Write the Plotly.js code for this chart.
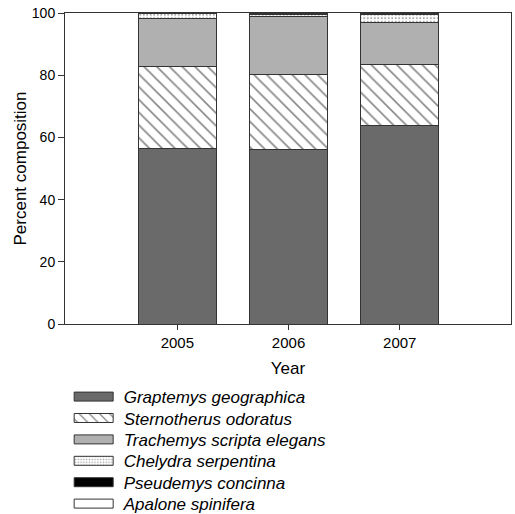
<!DOCTYPE html>
<html>
<head>
<meta charset="utf-8">
<script src="https://cdn.plot.ly/plotly-3.0.1.min.js"></script>
<style>html,body{margin:0;padding:0;background:#fff;}#chart{width:515px;height:514px;}</style>
</head>
<body>
<div id="chart"></div>
<script>
const years = ['2005', '2006', '2007'];
const graptemys = [56.4, 56.2, 63.8];
const sternotherus = [26.4, 24.0, 19.7];
const trachemys = [15.5, 18.8, 13.4];
const chelydra = [1.7, 0.5, 2.6];
const pseudemys = [0, 0.5, 0];
const apalone = [0, 0, 0.5];
const yTicks = [0, 20, 40, 60, 80, 100];

const seriesNames = ['Graptemys geographica', 'Sternotherus odoratus', 'Trachemys scripta elegans',
  'Chelydra serpentina', 'Pseudemys concinna', 'Apalone spinifera'];
const seriesValues = [graptemys, sternotherus, trachemys, chelydra, pseudemys, apalone];
const styles = [
  {color: '#6a6a6a'},
  {color: '#ffffff', pattern: {shape: '\\', size: 9, solidity: 0.18, fgcolor: '#111', bgcolor: '#fff', fillmode: 'overlay'}},
  {color: '#b0b0b0'},
  {color: '#ffffff', pattern: {shape: '.', size: 3.5, solidity: 0.25, fgcolor: '#444', bgcolor: '#fff', fillmode: 'overlay'}},
  {color: '#000000'},
  {color: '#ffffff'}
];

const traces = seriesNames.map((n, i) => ({
  type: 'bar', name: n, x: years, y: seriesValues[i],
  marker: Object.assign({line: {color: '#333', width: 1}}, styles[i]),
  hoverinfo: 'none'
}));

const layout = {
  width: 515, height: 514,
  margin: {l: 65, r: 4, t: 12.5, b: 190, autoexpand: false},
  barmode: 'stack', bargap: 0.3,
  paper_bgcolor: '#fff', plot_bgcolor: '#fff',
  font: {family: 'Liberation Sans, Arial, sans-serif', color: '#000', size: 14},
  xaxis: {
    type: 'category', range: [-1.01, 3.0], showgrid: false, zeroline: false,
    showline: true, linecolor: '#333', linewidth: 1, mirror: true,
    ticks: 'outside', ticklen: 5, tickcolor: '#333',
    tickfont: {size: 15},
    title: {text: 'Year', font: {size: 17}, standoff: 12}
  },
  yaxis: {
    range: [0, 100], tickvals: yTicks, showgrid: false, zeroline: false,
    showline: true, linecolor: '#333', linewidth: 1, mirror: true,
    ticks: 'outside', ticklen: 6, tickcolor: '#333',
    tickfont: {size: 14},
    title: {text: 'Percent composition', font: {size: 17}, standoff: 0}
  },
  showlegend: true,
  legend: {
    x: -0.003, xanchor: 'left', y: -0.177, yanchor: 'top',
    traceorder: 'normal', orientation: 'v',
    font: {size: 17, style: 'italic'},
    itemwidth: 50, bgcolor: 'rgba(0,0,0,0)', tracegroupgap: 0
  }
};

function tweakLegend() {
  const gd = document.getElementById('chart');
  gd.querySelectorAll('g.legendpoints path').forEach(p => {
    p.setAttribute('d', 'M-19.5,4.5H19.5V-4.5H-19.5Z');
  });
  const items = gd.querySelectorAll('g.legend g.traces');
  let y0 = null, x0 = 0;
  items.forEach((g, i) => {
    const t = g.getAttribute('transform') || '';
    const m = t.match(/translate\(\s*([-\d.]+)[ ,]+([-\d.]+)\s*\)/);
    if (!m) return;
    if (y0 === null) { x0 = parseFloat(m[1]); y0 = parseFloat(m[2]); }
    g.setAttribute('transform', 'translate(' + x0 + ',' + (y0 + i * 21.4) + ')');
  });
}

Plotly.newPlot('chart', traces, layout, {staticPlot: true, displayModeBar: false}).then(() => {
  tweakLegend();
  document.getElementById('chart').on && document.getElementById('chart').on('plotly_afterplot', tweakLegend);
  setTimeout(tweakLegend, 50);
});
</script>
</body>
</html>
